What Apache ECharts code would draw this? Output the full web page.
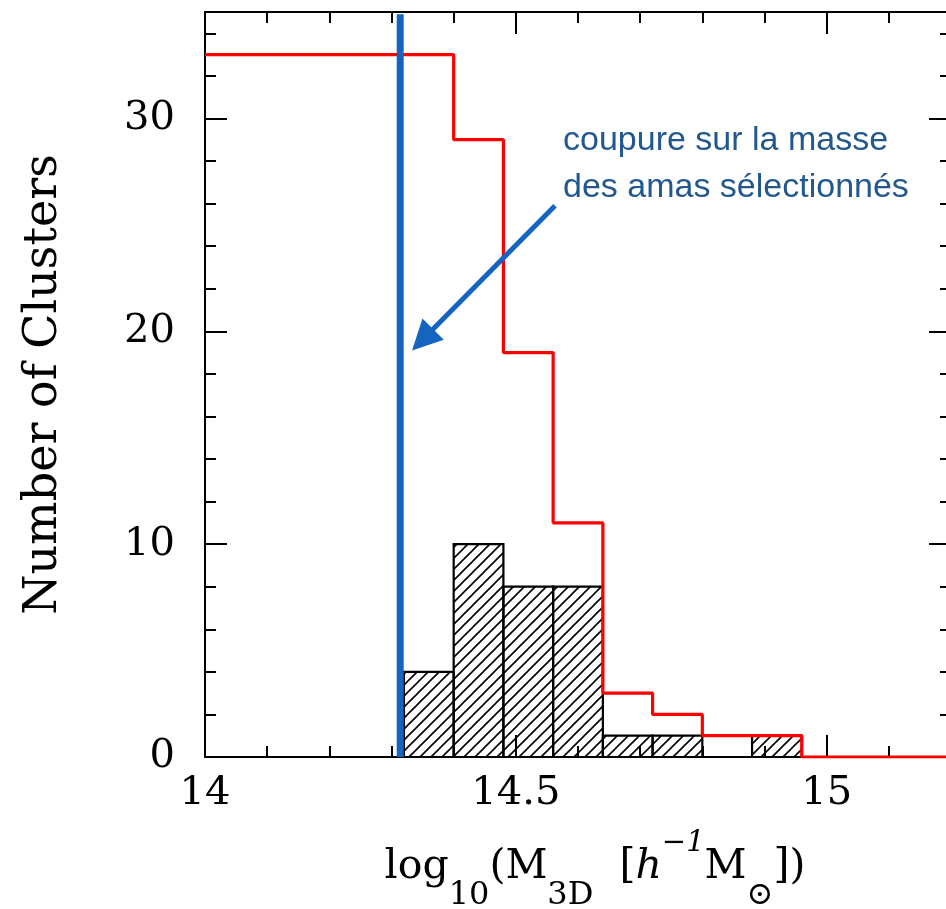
<!DOCTYPE html>
<html>
<head>
<meta charset="utf-8">
<script src="https://cdn.jsdelivr.net/npm/echarts@6/dist/echarts.min.js"></script>
<style>
html,body{margin:0;padding:0;background:#fff;}
#chart{width:946px;height:909px;}
</style>
</head>
<body>
<div id="chart"></div>
<script>
// ---- data ----
const selectedEdges = [14.32, 14.40, 14.48, 14.56, 14.64, 14.72, 14.80, 14.88, 14.96];
const selectedCounts = [4, 10, 8, 8, 1, 1, 0, 1];
const allStepX = [14.0, 14.40, 14.48, 14.56, 14.64, 14.72, 14.80, 14.88, 14.96, 15.2];
const allCounts = [33, 29, 19, 11, 3, 2, 1, 1, 0, 0];
const massCut = 14.314;
const cutTop = 34.9;
const arrowFrom = [14.563, 25.9];
const arrowTo = [14.350, 19.6];
const annotationLines = ['coupure sur la masse', 'des amas sélectionnés'];
const xMajorTicks = [14, 14.5, 15];
const xMinorTicks = [14.0, 14.1, 14.2, 14.3, 14.4, 14.5, 14.6, 14.7, 14.8, 14.9, 15.0, 15.1];
const yMajorTicks = [0, 10, 20, 30];

// hatch pattern
function makeHatch(s) {
  const c = document.createElement('canvas');
  c.width = s; c.height = s;
  const g = c.getContext('2d');
  g.strokeStyle = '#000';
  g.lineWidth = 1.6;
  g.beginPath();
  g.moveTo(0, s); g.lineTo(s, 0);
  g.moveTo(-2, 2); g.lineTo(2, -2);
  g.moveTo(s - 2, s + 2); g.lineTo(s + 2, s - 2);
  g.stroke();
  return c;
}
const hatch = makeHatch(11);

const histData = selectedCounts.map((v, i) => [selectedEdges[i], selectedEdges[i + 1], v]);
const stepData = allStepX.map((x, i) => [x, allCounts[i]]);

const serif = 'DejaVu Serif';
const chart = echarts.init(document.getElementById('chart'));

function xAx(pos, long, extra) {
  return Object.assign({
    type: 'value', position: pos, min: 14, max: 15.2,
    interval: long ? 0.5 : 0.1,
    axisLine: { show: long, onZero: false, lineStyle: { color: '#000', width: 2 } },
    axisTick: {
      show: true, inside: true, length: long ? 22 : 11,
      customValues: long ? xMajorTicks : xMinorTicks,
      lineStyle: { color: '#000', width: 2 }
    },
    axisLabel: { show: false },
    splitLine: { show: false }
  }, extra || {});
}
function yAx(pos, long, extra) {
  return Object.assign({
    type: 'value', position: pos, min: 0, max: 35,
    interval: long ? 10 : 2,
    axisLine: { show: long, onZero: false, lineStyle: { color: '#000', width: 2 } },
    axisTick: { show: true, inside: true, length: long ? 22 : 11, lineStyle: { color: '#000', width: 2 } },
    axisLabel: { show: false },
    splitLine: { show: false }
  }, extra || {});
}

const option = {
  animation: false,
  backgroundColor: '#fff',
  grid: { left: 205, top: 12, right: -5, bottom: 152, containLabel: false, outerBoundsMode: 'none' },
  xAxis: [
    xAx('bottom', true, {
      axisLabel: {
        show: true, color: '#000', fontFamily: serif, fontSize: 40, margin: 17,
        customValues: xMajorTicks,
        formatter: v => String(Math.round(v * 10) / 10)
      },
      name: '{n|log}{sub|10}{n|(M}{sub|3D}{n|  [}{i|h}{sup|−1}{n|M}{sub|⊙}{n|])}',
      nameLocation: 'middle', nameGap: 65,
      nameTextStyle: {
        color: '#000', padding: [0, 0, 0, 34],
        rich: {
          n: { fontFamily: serif, fontSize: 41, lineHeight: 90, color: '#000' },
          i: { fontFamily: serif, fontStyle: 'italic', fontSize: 41, lineHeight: 90, color: '#000' },
          sub: { fontFamily: serif, fontSize: 32, lineHeight: 22, verticalAlign: 'bottom', color: '#000' },
          sup: { fontFamily: serif, fontStyle: 'italic', fontSize: 29, lineHeight: 66, verticalAlign: 'top', padding: [7, 0, 0, 0], color: '#000' }
        }
      }
    }),
    xAx('bottom', false),
    xAx('top', true),
    xAx('top', false)
  ],
  yAxis: [
    yAx('left', true, {
      axisLabel: {
        show: true, color: '#000', fontFamily: serif, fontSize: 40, margin: 30,
        showMaxLabel: false,
        formatter: v => (yMajorTicks.indexOf(v) >= 0 ? String(v) : '')
      },
      name: 'Number of Clusters', nameLocation: 'middle', nameGap: 138,
      nameTextStyle: { color: '#000', fontFamily: serif, fontSize: 46 }
    }),
    yAx('left', false),
    yAx('right', true),
    yAx('right', false)
  ],
  series: [
    {
      type: 'custom', xAxisIndex: 0, yAxisIndex: 0, z: 2,
      data: histData,
      renderItem: function (params, api) {
        const h = api.value(2);
        if (!h) return null;
        const p0 = api.coord([api.value(0), h]);
        const p1 = api.coord([api.value(1), 0]);
        return {
          type: 'rect',
          shape: { x: p0[0], y: p0[1], width: p1[0] - p0[0], height: p1[1] - p0[1] },
          style: { fill: { image: hatch, repeat: 'repeat' }, stroke: '#000', lineWidth: 2.2 }
        };
      }
    },
    {
      type: 'line', xAxisIndex: 0, yAxisIndex: 0, z: 3,
      data: stepData, step: 'end', symbol: 'none',
      lineStyle: { color: '#ff0000', width: 3.2 }
    },
    {
      type: 'line', xAxisIndex: 0, yAxisIndex: 0, z: 4,
      data: [[massCut, 0], [massCut, cutTop]], symbol: 'none',
      lineStyle: { color: '#1565c0', width: 7 }
    },
    {
      type: 'lines', coordinateSystem: 'cartesian2d', xAxisIndex: 0, yAxisIndex: 0, z: 4,
      symbol: ['none', 'triangle'], symbolSize: 30,
      lineStyle: { color: '#1565c0', width: 5, opacity: 1 },
      data: [{ coords: [arrowFrom, arrowTo] }]
    }
  ],
  graphic: [
    {
      type: 'text', left: 563, top: 117, z: 10,
      style: {
        text: annotationLines.join('\n'),
        fill: '#22588f', font: '34px "Liberation Sans", Arial, sans-serif',
        lineHeight: 47
      }
    }
  ]
};
chart.setOption(option);
</script>
</body>
</html>
